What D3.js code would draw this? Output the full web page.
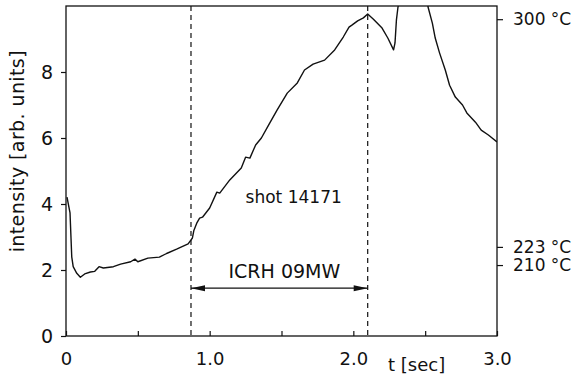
<!DOCTYPE html>
<html>
<head>
<meta charset="utf-8">
<script src="https://cdn.jsdelivr.net/npm/d3@7"></script>
<style>
  html, body { margin: 0; padding: 0; background: #fff; }
  svg text { font-family: "DejaVu Sans", sans-serif; fill: #111; }
</style>
</head>
<body>
<div id="chart"></div>
<script>
// time [sec] and intensity [arb. units]
const timeSec = [0.007, 0.028, 0.04, 0.05, 0.075, 0.10, 0.13, 0.17, 0.20, 0.23, 0.26, 0.33, 0.38, 0.45, 0.48, 0.50,
  0.57, 0.65, 0.70, 0.77, 0.85, 0.88, 0.89, 0.91, 0.93, 0.95, 1.00, 1.05, 1.07, 1.14, 1.22, 1.25, 1.28, 1.32,
  1.36, 1.41, 1.47, 1.54, 1.61, 1.66, 1.72, 1.80, 1.87, 1.93, 1.97, 1.99, 2.03, 2.07, 2.10, 2.14, 2.20, 2.24,
  2.28, 2.29, 2.30, 2.31, 2.34, 2.42, 2.50, 2.52, 2.55, 2.57, 2.60, 2.64, 2.67, 2.71, 2.76, 2.79, 2.85, 2.89,
  2.94, 3.00];
const intensity = [4.21, 3.73, 2.4, 2.1, 1.9, 1.78, 1.88, 1.94, 1.96, 2.1, 2.06, 2.1, 2.18, 2.25, 2.33, 2.25,
  2.36, 2.39, 2.5, 2.63, 2.79, 2.97, 3.2, 3.42, 3.57, 3.6, 3.88, 4.36, 4.33, 4.73, 5.09, 5.42, 5.39, 5.79,
  6.0, 6.39, 6.85, 7.36, 7.67, 8.06, 8.24, 8.36, 8.67, 9.06, 9.36, 9.42, 9.55, 9.64, 9.76, 9.6, 9.33, 9.03,
  8.67, 8.88, 9.58, 9.94, 10.7, 11.4, 10.6, 9.97, 9.48, 9.03, 8.58, 8.06, 7.6, 7.24, 7.0, 6.76, 6.48, 6.24,
  6.09, 5.88];

const xTicks = [0, 0.5, 1.0, 1.5, 2.0, 2.5, 3.0];
const xTickLabels = { 0: '0', 1: '1.0', 2: '2.0', 3: '3.0' };
const yTicks = [0, 2, 4, 6, 8];
const tempTicks = [9.6, 2.7, 2.15];
const tempLabels = ['300 °C', '223 °C', '210 °C'];
const icrhStart = 0.87;
const icrhEnd = 2.10;

const width = 582, height = 378;
const margin = { top: 6, right: 85, bottom: 42, left: 66 };

const svg = d3.select('#chart').append('svg')
  .attr('width', width)
  .attr('height', height);

const x = d3.scaleLinear().domain([0, 3]).range([margin.left, width - margin.right]);
const y = d3.scaleLinear().domain([0, 10]).range([height - margin.bottom, margin.top]);

svg.append('clipPath').attr('id', 'plot')
  .append('rect')
  .attr('x', x(0)).attr('y', y(10))
  .attr('width', x(3) - x(0)).attr('height', y(0) - y(10));

// frame
svg.append('rect')
  .attr('x', x(0)).attr('y', y(10))
  .attr('width', x(3) - x(0)).attr('height', y(0) - y(10))
  .attr('fill', 'none').attr('stroke', '#111').attr('stroke-width', 1.3);

const styleAxis = (g, size) => {
  g.select('.domain').remove();
  g.selectAll('line').attr('stroke', '#111').attr('stroke-width', 1.2);
  g.selectAll('text').attr('font-family', 'DejaVu Sans, sans-serif').attr('font-size', size).attr('fill', '#111');
};

svg.append('g')
  .attr('transform', `translate(0, ${y(0)})`)
  .call(d3.axisBottom(x).tickValues(xTicks).tickSizeInner(-5).tickSizeOuter(0).tickPadding(16)
    .tickFormat((d) => xTickLabels[d] || ''))
  .call((g) => styleAxis(g, 18));

svg.append('g')
  .attr('transform', `translate(${x(0)}, 0)`)
  .call(d3.axisLeft(y).tickValues(yTicks).tickSizeInner(5).tickSizeOuter(0).tickPadding(8))
  .call((g) => styleAxis(g, 19));

svg.append('g')
  .attr('transform', `translate(${x(3)}, 0)`)
  .call(d3.axisRight(y).tickValues(tempTicks).tickSizeInner(6).tickSizeOuter(0).tickPadding(10)
    .tickFormat((d, i) => tempLabels[i]))
  .call((g) => styleAxis(g, 17));

// ICRH window
[icrhStart, icrhEnd].forEach((t) => {
  svg.append('line')
    .attr('x1', x(t)).attr('x2', x(t))
    .attr('y1', y(10)).attr('y2', y(0))
    .attr('stroke', '#111').attr('stroke-width', 1.2)
    .attr('stroke-dasharray', '5,4');
});

const arrowY = y(1.45);
svg.append('line')
  .attr('x1', x(icrhStart)).attr('x2', x(icrhEnd))
  .attr('y1', arrowY).attr('y2', arrowY)
  .attr('stroke', '#111').attr('stroke-width', 1.4);
svg.append('path')
  .attr('d', `M${x(icrhStart)},${arrowY} l14,-3 l0,6 Z M${x(icrhEnd)},${arrowY} l-14,-3 l0,6 Z`)
  .attr('fill', '#111');

svg.append('text')
  .attr('x', x(1.52)).attr('y', y(1.76))
  .attr('text-anchor', 'middle')
  .attr('font-size', 19)
  .text('ICRH 09MW');

svg.append('text')
  .attr('x', x(1.25)).attr('y', y(4.03))
  .attr('font-size', 17)
  .text('shot 14171');

// trace
const points = timeSec.map((t, i) => [t, intensity[i]]);
svg.append('path')
  .datum(points)
  .attr('clip-path', 'url(#plot)')
  .attr('fill', 'none')
  .attr('stroke', '#111')
  .attr('stroke-width', 1.4)
  .attr('stroke-linejoin', 'round')
  .attr('d', d3.line().x((d) => x(d[0])).y((d) => y(d[1])));

// axis titles
svg.append('text')
  .attr('transform', `translate(24, ${y(5.6)}) rotate(-90)`)
  .attr('text-anchor', 'middle')
  .attr('font-size', 19)
  .attr('letter-spacing', 0.4)
  .text('intensity [arb. units]');

svg.append('text')
  .attr('x', 388).attr('y', 371)
  .attr('font-size', 18)
  .text('t [sec]');
</script>
</body>
</html>
